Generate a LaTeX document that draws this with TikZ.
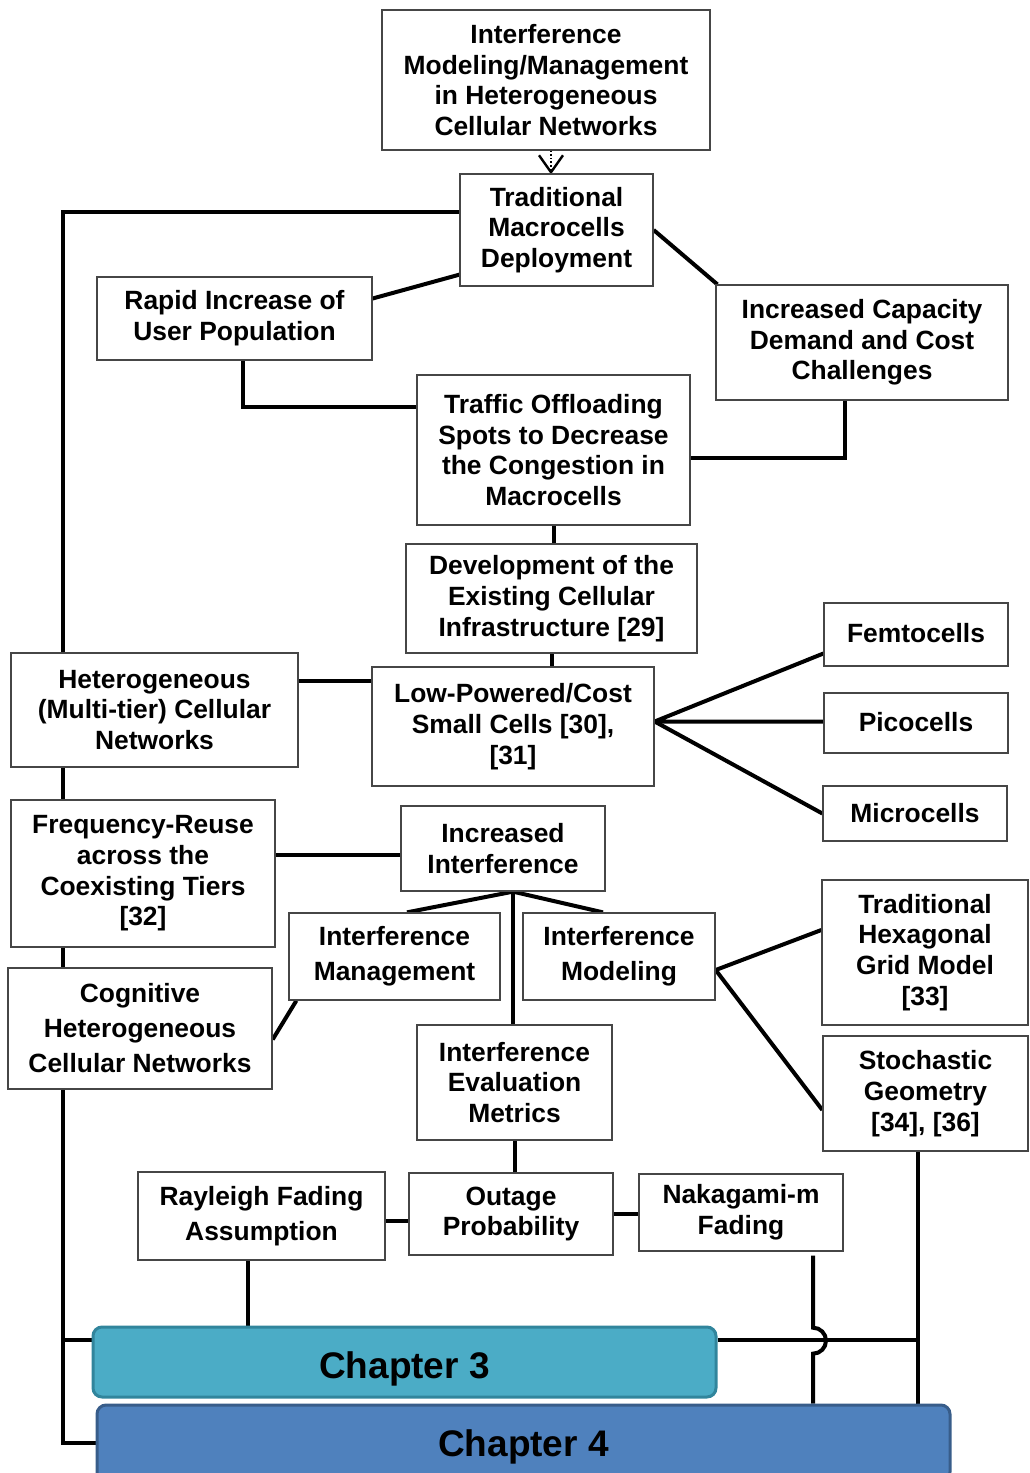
\documentclass[tikz,border=0pt]{standalone}
\usepackage{fontspec}
\setmainfont{Liberation Sans}
\usetikzlibrary{arrows.meta,calc}
\pgfdeclarelayer{background}
\pgfsetlayers{background,main}
\definecolor{boxline}{RGB}{70,70,70}
\definecolor{chthreefill}{RGB}{75,172,198}
\definecolor{chthreeline}{RGB}{49,133,156}
\definecolor{chfourfill}{RGB}{79,129,189}
\definecolor{chfourline}{RGB}{56,93,138}
\newcommand\placebox[7][]{\node[box,#1,minimum width={#5-#3},minimum height={#6-#4}] (#2) at ({(#3+#5)/2},{(#4+#6)/2}) {#7};}
\tikzset{
  box/.style={draw=boxline, line width=1.3pt, fill=white, align=center, inner sep=0pt,
    font=\bfseries\fontsize{26.4}{30.7}\selectfont},
  widebox/.style={font=\bfseries\fontsize{26.4}{35}\selectfont},
  conn/.style={line width=4pt, line join=miter},
  chapbox/.style={rounded corners=9pt, line width=3pt, font=\bfseries\fontsize{37}{40}\selectfont}
}
\begin{document}
\begin{tikzpicture}[x=1pt,y=-1pt]
\useasboundingbox (0,0) rectangle (1029,1473);
\clip (0,0) rectangle (1029,1473);
% boxes
\placebox{top}{382}{10}{710}{150}{Interference\\Modeling/Management\\in Heterogeneous\\Cellular Networks}
\placebox{trad}{460}{174}{653}{286}{Traditional\\Macrocells\\Deployment}
\placebox{rapid}{97}{277}{372}{360}{Rapid Increase of\\User Population}
\placebox{incap}{716}{285}{1008}{400}{Increased Capacity\\Demand and Cost\\Challenges}
\placebox{traffic}{417}{375}{690}{525}{Traffic Offloading\\Spots to Decrease\\the Congestion in\\Macrocells}
\placebox{dev}{406}{544}{697}{653}{Development of the\\Existing Cellular\\Infrastructure [29]}
\placebox{hetero}{11}{653}{298}{767}{Heterogeneous\\(Multi-tier) Cellular\\Networks}
\placebox{lowp}{372}{667}{654}{786}{Low-Powered/Cost\\Small Cells [30],\\{}[31]}
\placebox{femto}{824}{603}{1008}{666}{\raisebox{4pt}{Femtocells}}
\placebox{pico}{824}{693}{1008}{753}{\raisebox{2pt}{Picocells}}
\placebox{micro}{823}{786}{1007}{841}{Microcells}
\placebox{freq}{11}{800}{275}{947}{Frequency-Reuse\\across the\\Coexisting Tiers\\{}[32]}
\placebox{incint}{401}{806}{605}{891}{Increased\\Interference}
\placebox[widebox]{intman}{289}{913}{500}{1000}{Interference\\Management}
\placebox[widebox]{intmod}{523}{913}{715}{1000}{Interference\\Modeling}
\placebox{hex}{822}{880}{1028}{1025}{Traditional\\Hexagonal\\Grid Model\\{}[33]}
\placebox[widebox]{cog}{8}{968}{272}{1089}{Cognitive\\Heterogeneous\\Cellular Networks}
\placebox{eval}{417}{1025}{612}{1140}{Interference\\Evaluation\\Metrics}
\placebox{stoch}{823}{1036}{1028}{1151}{Stochastic\\Geometry\\{}[34], [36]}
\placebox[widebox]{ray}{138}{1172}{385}{1260}{Rayleigh Fading\\Assumption}
\placebox{outage}{409}{1173}{613}{1255}{Outage\\Probability}
\placebox{nak}{639}{1174}{843}{1251}{Nakagami-m\\Fading}
\node[chapbox, draw=chthreeline, fill=chthreefill, minimum width=623, minimum height=70] (ch3) at (404.5,1362) {\raisebox{-7pt}[\height][\depth]{Chapter 3}};
\node[chapbox, draw=chfourline, fill=chfourfill, minimum width=853, minimum height=76] (ch4) at (523.5,1443) {\raisebox{-4pt}[\height][\depth]{Chapter 4}};
% connectors
\begin{pgfonlayer}{background}
\draw[line width=1.6pt, dotted, -{Straight Barb[length=17pt,width=24pt,line width=2.4pt]}]
  ([xshift=5pt]top.south) -- ([xshift=-5.5pt,yshift=-1pt]trad.north);
\coordinate (lt) at (63,212);
\draw[conn] ([yshift=18pt]trad.west) -- (lt) -- (lt |- ch4.west) -- (ch4.west);
\coordinate (c3l) at ([yshift=22pt]ch3.west);
\coordinate (c3r) at ([yshift=22pt]ch3.east);
\draw[conn] (lt |- c3l) -- (c3l);
\draw[conn] (trad.east) -- ([xshift=2pt]incap.north west);
\draw[conn] ([yshift=20pt]rapid.east) -- ([yshift=12pt]trad.south west);
\draw[conn] ([xshift=8.5pt]rapid.south) |- ([yshift=43pt]traffic.west);
\draw[conn] ([xshift=-17pt]incap.south) |- ([yshift=-8pt]traffic.east);
\draw[conn] (traffic.south) -- (traffic.south |- dev.north);
\draw[conn] (dev.south) -- (dev.south |- lowp.north);
\draw[conn] ([yshift=29pt]hetero.east) -- ([yshift=29pt]hetero.east -| lowp.west);
\coordinate (lpe) at ([yshift=5pt]lowp.east);
\draw[conn] ([yshift=-19pt]femto.west) -- (lpe) -- (lpe -| pico.west);
\draw[conn] (lpe) -- (micro.west);
\draw[conn] ([yshift=18.5pt]freq.east) -- ([yshift=18.5pt]freq.east -| incint.west);
\coordinate (ifork) at ([xshift=10pt]incint.south);
\draw[conn] ([xshift=12.5pt]intman.north) -- (ifork) -- ([xshift=-16pt]intmod.north);
\draw[conn] (ifork) -- (ifork |- eval.north);
\draw[conn] ([xshift=8pt]intman.south west) -- ([yshift=-11pt]cog.east);
\coordinate (mfork) at ([yshift=-13.5pt]intmod.east);
\draw[conn] ([yshift=22.5pt]hex.west) -- (mfork) -- ([yshift=-16.5pt]stoch.west);
\draw[conn] (eval.south) -- (eval.south |- outage.north);
\draw[conn] ([yshift=-7pt]outage.west) -- ([yshift=-7pt]outage.west -| ray.east);
\draw[conn] (outage.east) -- (outage.east -| nak.west);
\draw[conn] ([xshift=-13.5pt]ray.south) -- ([xshift=-13.5pt]ray.south |- ch3.north);
\coordinate (nk) at ([xshift=72pt,yshift=-4pt]nak.south);
\draw[conn] (nk) -- ++(0,72) arc[start angle=90, end angle=-90, radius=13pt] -- (nk |- ch4.north);
\coordinate (sb) at ([xshift=-7.5pt]stoch.south);
\draw[conn] (sb) -- (sb |- ch4.north);
\draw[conn] (c3r) -- (c3r -| sb);
\end{pgfonlayer}
\end{tikzpicture}
\end{document}
